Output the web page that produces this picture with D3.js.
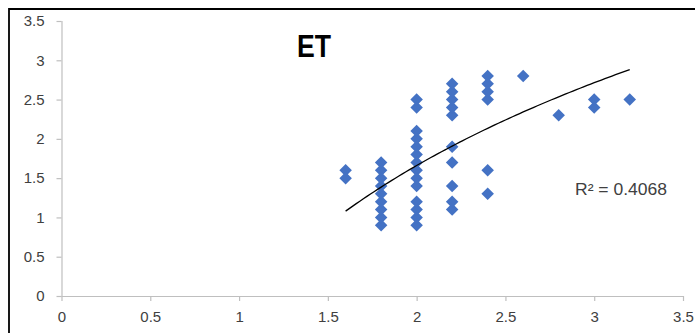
<!DOCTYPE html>
<html>
<head>
<meta charset="utf-8">
<script src="https://cdn.jsdelivr.net/npm/d3@7"></script>
<style>
  body { margin: 0; background: #fff; }
  text { font-family: "Liberation Sans", Arial, sans-serif; }
</style>
</head>
<body>
<script>
// ET scatter, values
var xVals = [1.6, 1.6,
  1.8, 1.8, 1.8, 1.8, 1.8, 1.8, 1.8, 1.8, 1.8,
  2.0, 2.0, 2.0, 2.0, 2.0, 2.0, 2.0, 2.0, 2.0, 2.0, 2.0, 2.0, 2.0, 2.0,
  2.2, 2.2, 2.2, 2.2, 2.2, 2.2, 2.2, 2.2, 2.2, 2.2,
  2.4, 2.4, 2.4, 2.4, 2.4, 2.4,
  2.6, 2.8, 3.0, 3.0, 3.2];
var yVals = [1.6, 1.5,
  0.9, 1.0, 1.1, 1.2, 1.3, 1.4, 1.5, 1.6, 1.7,
  0.9, 1.0, 1.1, 1.2, 1.4, 1.5, 1.6, 1.7, 1.8, 1.9, 2.0, 2.1, 2.4, 2.5,
  1.1, 1.2, 1.4, 1.7, 1.9, 2.3, 2.4, 2.5, 2.6, 2.7,
  1.3, 1.6, 2.5, 2.6, 2.7, 2.8,
  2.8, 2.3, 2.4, 2.5, 2.5];
var tickVals = [0, 0.5, 1, 1.5, 2, 2.5, 3, 3.5];
var title = "ET";
var r2Label = "R\u00b2 = 0.4068";
// log trendline y = a*ln(x) + b, as drawn in the picture
var trendA = 2.6, trendB = -0.142;
var trendRange = [1.6, 3.2];

var options = { width: 695, height: 333 };

var svg = d3.select("body").append("svg")
  .attr("width", options.width)
  .attr("height", options.height);

// outer chart frame (cropped at right/bottom)
svg.append("path")
  .attr("d", "M9,340V9H700")
  .attr("fill", "none")
  .attr("stroke", "#000")
  .attr("stroke-width", 1.8);

var x = d3.scaleLinear().domain([0, 3.5]).range([61.5, 683]);
var y = d3.scaleLinear().domain([0, 3.5]).range([296, 21]);

var xAxis = svg.append("g")
  .attr("transform", "translate(0,296)")
  .call(d3.axisBottom(x).tickValues(tickVals).tickSize(5).tickPadding(10)
    .tickFormat(d3.format("")));
var yAxis = svg.append("g")
  .attr("transform", "translate(61.5,0)")
  .call(d3.axisLeft(y).tickValues(tickVals).tickSize(5).tickPadding(12)
    .tickFormat(d3.format("")));

[xAxis, yAxis].forEach(function(g) {
  g.select(".domain").attr("stroke", "#bfbfbf").attr("stroke-width", 1.2);
  g.selectAll(".tick line").attr("stroke", "#bfbfbf").attr("stroke-width", 1.2);
  g.selectAll(".tick text").attr("fill", "#404040")
    .style("font-size", "15px");
});
xAxis.select(".domain").attr("d", "M61.5,0.5H683");
yAxis.select(".domain").attr("d", "M0.5,21V296");

var pts = xVals.map(function(v, i) { return { x: v, y: yVals[i] }; });

var diamond = d3.symbol().type(d3.symbolDiamond2).size(100);
svg.selectAll(".pt").data(pts).enter().append("path")
  .attr("class", "pt")
  .attr("d", diamond)
  .attr("transform", function(d) { return "translate(" + x(d.x) + "," + y(d.y) + ")"; })
  .attr("fill", "#4472c4");

var xs = d3.range(trendRange[0], trendRange[1] + 0.001, 0.02);
svg.append("path")
  .datum(xs)
  .attr("d", d3.line()
    .x(function(d) { return x(d); })
    .y(function(d) { return y(trendA * Math.log(d) + trendB); }))
  .attr("fill", "none")
  .attr("stroke", "#000")
  .attr("stroke-width", 1.3);

svg.append("text")
  .attr("x", 297).attr("y", 57)
  .attr("textLength", 34).attr("lengthAdjust", "spacingAndGlyphs")
  .style("font-size", "32px").style("font-weight", "bold")
  .attr("fill", "#000")
  .text(title);

svg.append("text")
  .attr("x", 575).attr("y", 195)
  .attr("textLength", 92).attr("lengthAdjust", "spacingAndGlyphs")
  .style("font-size", "16px")
  .attr("fill", "#404040")
  .text(r2Label);
</script>
</body>
</html>
